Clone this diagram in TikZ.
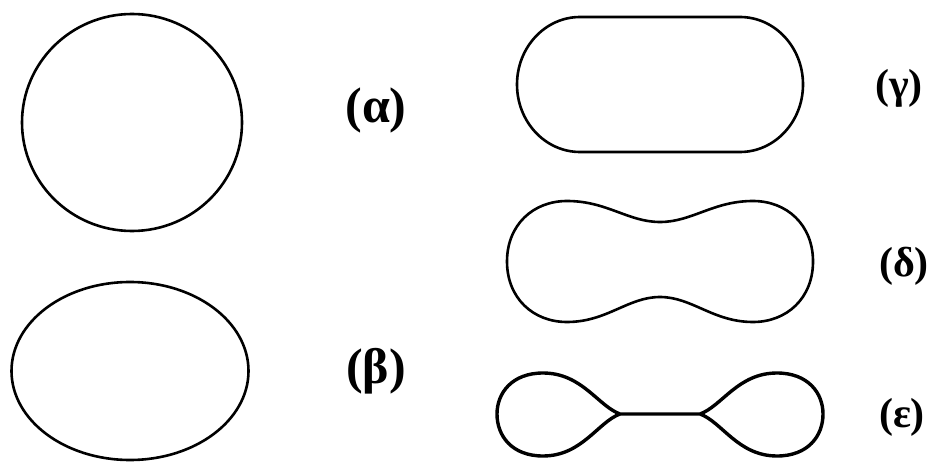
\documentclass[tikz,border=0pt]{standalone}
\usepackage{fontspec}
\setmainfont{Liberation Serif}
\tikzset{
  shape line/.style={line width=2.6pt, black},
  thick shape/.style={line width=3.4pt, black, line join=round},
  biglabel/.style={font=\fontsize{50}{60}\selectfont\bfseries, inner sep=0pt},
  smalllabel/.style={font=\fontsize{42}{50}\selectfont\bfseries, inner sep=0pt}
}
\begin{document}
\begin{tikzpicture}[x=1pt,y=-1pt]
\useasboundingbox (0,0) rectangle (933,462);
% (alpha) circle
\draw[shape line] (132,122.5) ellipse [x radius=110, y radius=108.5];
% (beta) ellipse
\draw[shape line] (130,371) ellipse [x radius=118.5, y radius=89];
% (gamma) stadium
\draw[shape line] (580,17) -- (740,17)
  arc[start angle=-90, end angle=90, x radius=63, y radius=67.5]
  -- (580,152)
  arc[start angle=90, end angle=270, x radius=63, y radius=67.5] -- cycle;
% (delta) peanut
\draw[shape line] (507,261.5) .. controls (507,225) and (533,201) .. (567,201)
  .. controls (607,201) and (628,222) .. (660,222)
  .. controls (692,222) and (713,201) .. (753,201)
  .. controls (787,201) and (813,225) .. (813,261.5)
  .. controls (813,298) and (787,322) .. (753,322)
  .. controls (713,322) and (692,297) .. (660,297)
  .. controls (628,297) and (607,322) .. (567,322)
  .. controls (533,322) and (507,298) .. (507,261.5) -- cycle;
% (epsilon) dumbbell
\draw[thick shape] (620,414)
  .. controls (598,406) and (582,373) .. (543,373)
  .. controls (512,373) and (497,393) .. (497,414)
  .. controls (497,436) and (512,456) .. (543,456)
  .. controls (582,456) and (598,422) .. (620,414)
  -- (700,414)
  .. controls (722,406) and (738,373) .. (777,373)
  .. controls (808,373) and (823,393) .. (823,414)
  .. controls (823,436) and (808,456) .. (777,456)
  .. controls (738,456) and (722,422) .. (700,414);
% labels
\node[biglabel] (la) at (376,110) {(α)};
\node[biglabel] (lb) at (376,371) {(β)};
\node[smalllabel] (lg) at (899,88) {(γ)};
\node[smalllabel] (ld) at (904,266) {(δ)};
\node[smalllabel] (le) at (902,417) {(ε)};
\end{tikzpicture}
\end{document}
